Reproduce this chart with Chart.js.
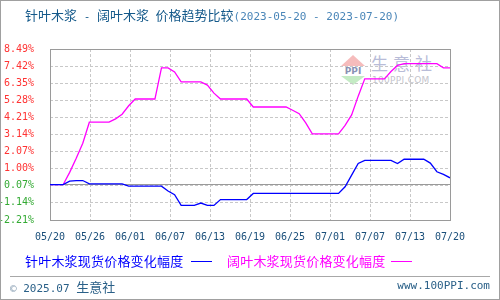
<!DOCTYPE html>
<html>
<head>
<meta charset="utf-8">
<script src="https://cdn.jsdelivr.net/npm/chart.js@4/dist/chart.umd.min.js"></script>
<style>
  body { margin: 0; background: #fff; }
  #page { position: relative; width: 500px; height: 300px; overflow: hidden; font-family: "Noto Sans CJK SC", sans-serif; }
  #frame { position: absolute; left: 0; top: 0; width: 500px; height: 300px; box-sizing: border-box; border: 1px solid #a0a0a0; }
  .abs { position: absolute; white-space: nowrap; }
  .mono { font-family: "DejaVu Sans Mono", monospace; font-size: 11px; }
  #chart { position: absolute; left: 0; top: 0; }
</style>
</head>
<body>
<div id="page">
  <!-- watermark sits under the canvas -->
  <div class="abs" style="left:341px;top:55px;width:0;height:0;border-left:12px solid transparent;border-right:12px solid transparent;border-bottom:11px solid #f6bcbc;"></div>
  <div class="abs" style="left:342px;top:66px;width:22px;height:10px;line-height:10px;font:bold 9px 'DejaVu Sans';color:#8a92b4;text-align:center;">PPI</div>
  <div class="abs" style="left:341px;top:76px;width:0;height:0;border-left:12px solid transparent;border-right:12px solid transparent;border-top:9px solid #c4ebc4;"></div>
  <div class="abs" style="left:371px;top:52px;font-size:17px;line-height:22px;letter-spacing:5px;color:#b8bcd8;">生意社</div>
  <div class="abs" style="left:372px;top:75px;font:9px 'DejaVu Sans';line-height:11px;letter-spacing:0.3px;color:#c4c4cc;">100PPI.COM</div>

  <canvas id="chart" width="500" height="300"></canvas>

  <div class="abs" style="left:25px;top:6px;line-height:18px;font-size:13px;color:#14598a;">针叶木浆<span class="mono"> - </span>阔叶木浆<span class="mono"> </span>价格趋势比较<span class="mono" style="color:#4a86b8;">(2023-05-20 - 2023-07-20)</span></div>

  <div class="abs" style="left:25px;top:252px;line-height:18px;font-size:13px;letter-spacing:0.2px;color:#0000ff;">针叶木浆现货价格变化幅度</div>
  <div class="abs" style="left:191px;top:261px;width:21px;height:1px;background:#0000ff;"></div>
  <div class="abs" style="left:227px;top:252px;line-height:18px;font-size:13px;letter-spacing:0.2px;color:#ff00ff;">阔叶木浆现货价格变化幅度</div>
  <div class="abs" style="left:391px;top:261px;width:21px;height:1px;background:#ff00ff;"></div>

  <div class="abs" style="left:10px;top:276px;width:480px;height:1px;background:#a8a8a8;"></div>
  <div class="abs" style="left:10px;top:276px;line-height:18px;color:#2a6088;"><span class="mono" style="color:#8aa0b4;">©</span><span class="mono"> 2025.07 </span><span style="font-size:13px;">生意社</span></div>
  <div class="abs mono" style="right:10px;top:277px;line-height:18px;color:#2a6088;">www.100PPI.com</div>

  <div id="frame"></div>
</div>
<script>
// axis labels
const xLabels = ['05/20', '05/26', '06/01', '06/07', '06/13', '06/19', '06/25', '07/01', '07/07', '07/13', '07/20'];
const yTicks = [-2.21, -1.14, -0.07, 1.00, 2.07, 3.14, 4.21, 5.28, 6.35, 7.42, 8.49];
const yTickLabels = ['-2.21%', '-1.14%', '0.07%', '1.00%', '2.07%', '3.14%', '4.21%', '5.28%', '6.35%', '7.42%', '8.49%'];

// daily change vs 05/20 (%), 05/20 .. 07/20
const softwood = [
  0, 0, 0, 0.22, 0.26, 0.26,
  0.05, 0.05, 0.05, 0.05, 0.05, 0.05,
  -0.09, -0.09, -0.09, -0.09, -0.09, -0.09,
  -0.40, -0.63, -1.30, -1.30, -1.30, -1.15, -1.30, -1.30,
  -0.93, -0.93, -0.93, -0.93, -0.93,
  -0.55, -0.55, -0.55, -0.55, -0.55, -0.55, -0.55, -0.55, -0.55, -0.55, -0.55, -0.55, -0.55, -0.55,
  -0.13, 0.60, 1.33, 1.52, 1.52, 1.52, 1.52, 1.52, 1.32,
  1.59, 1.59, 1.59, 1.59, 1.35, 0.81, 0.64, 0.43
];
const hardwood = [
  0, 0, 0, 0.77, 1.65, 2.59,
  3.91, 3.91, 3.91, 3.91, 4.12, 4.41, 4.94,
  5.36, 5.36, 5.36, 5.36, 7.31, 7.31, 7.05,
  6.43, 6.43, 6.43, 6.43, 6.23, 5.73,
  5.36, 5.36, 5.36, 5.36, 5.36,
  4.86, 4.86, 4.86, 4.86, 4.86, 4.86, 4.66, 4.44, 3.87,
  3.18, 3.18, 3.18, 3.18, 3.18, 3.71, 4.37, 5.54,
  6.62, 6.62, 6.62, 6.62, 7.08, 7.46,
  7.57, 7.57, 7.57, 7.57, 7.57, 7.57, 7.31, 7.31
];

const lastIdx = softwood.length - 1;

// plot frame + solid zero line
const framePlugin = {
  id: 'framePlugin',
  beforeDatasetsDraw(chart) {
    const { ctx, chartArea: a, scales } = chart;
    ctx.save();
    ctx.strokeStyle = '#9a9a9a';
    ctx.lineWidth = 1;
    const y0 = Math.floor(scales.y.getPixelForValue(0)) + 0.5;
    ctx.beginPath();
    ctx.moveTo(a.left, y0);
    ctx.lineTo(a.right, y0);
    ctx.stroke();
    ctx.strokeRect(a.left + 0.5, a.top + 0.5, a.width, a.height);
    ctx.restore();
  }
};

new Chart(document.getElementById('chart'), {
  type: 'line',
  data: {
    datasets: [
      {
        data: softwood.map((v, i) => ({ x: i, y: v })),
        borderColor: '#0000ff', borderWidth: 1.3, pointRadius: 0, tension: 0
      },
      {
        data: hardwood.map((v, i) => ({ x: i, y: v })),
        borderColor: '#ff00ff', borderWidth: 1.3, pointRadius: 0, tension: 0
      }
    ]
  },
  options: {
    responsive: false, animation: false, devicePixelRatio: 1,
    layout: { padding: { left: 0, top: 49, right: 50, bottom: 50 } },
    plugins: { legend: { display: false }, tooltip: { enabled: false } },
    scales: {
      x: {
        type: 'linear', min: 0, max: lastIdx,
        afterBuildTicks: axis => { axis.ticks = xLabels.map((_, k) => ({ value: k * lastIdx / (xLabels.length - 1) })); },
        afterFit: axis => { axis.height = 30; },
        grid: { color: '#c8c8c8', drawTicks: false },
        border: { display: false, dash: [3, 2] },
        ticks: {
          autoSkip: false, maxRotation: 0, padding: 11,
          color: '#1a4f7a', font: { family: 'DejaVu Sans Mono', size: 10 },
          callback: (v, i) => xLabels[i]
        }
      },
      y: {
        min: yTicks[0], max: yTicks[yTicks.length - 1],
        afterBuildTicks: axis => { axis.ticks = yTicks.map(v => ({ value: v })); },
        afterFit: axis => { axis.width = 50; },
        grid: { color: '#c8c8c8', drawTicks: false },
        border: { display: false, dash: [3, 2] },
        ticks: {
          padding: 16,
          color: c => (c.tick && c.tick.value > 0 ? '#ff3333' : '#33aa33'),
          font: { family: 'DejaVu Sans Mono', size: 10 },
          callback: (v, i) => yTickLabels[i]
        }
      }
    }
  },
  plugins: [framePlugin]
});
</script>
</body>
</html>
